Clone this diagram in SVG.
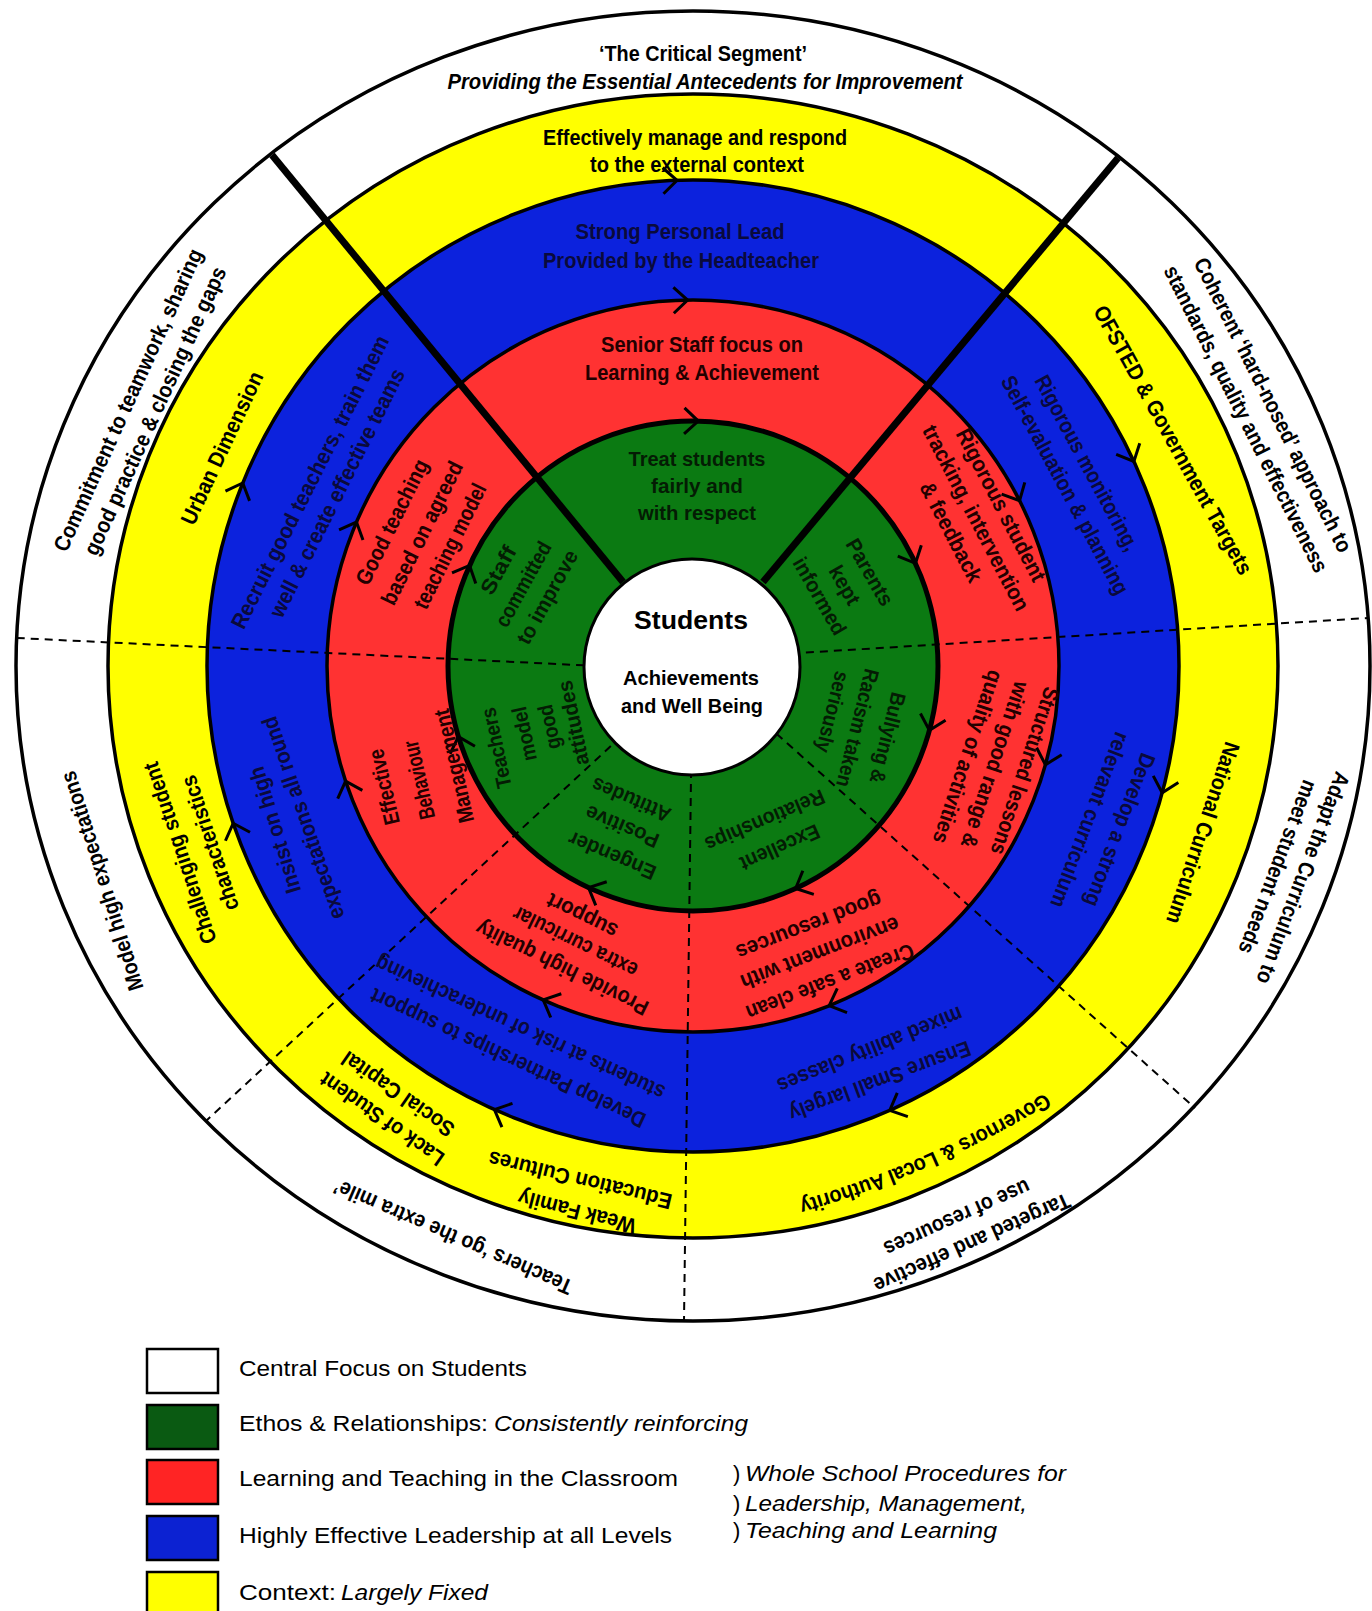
<svg xmlns="http://www.w3.org/2000/svg" xmlns:xlink="http://www.w3.org/1999/xlink" width="1372" height="1611" viewBox="0 0 1372 1611">
<style>
  .lbl{font-family:"Liberation Sans Narrow","Liberation Sans",Arial,sans-serif;font-weight:bold;text-anchor:middle;dominant-baseline:central;font-size:21px}
  .big{font-size:22px}
  .it{font-style:italic}
  .ink-w{fill:#000}
  .ink-y{fill:#000}
  .ink-b{fill:#0a0a3c}
  .ink-r{fill:#220000}
  .ink-g{fill:#041c04}
  .ring{stroke:#000;stroke-width:3.5}
  .dash{stroke:#000;stroke-width:2;stroke-dasharray:8 6;fill:none}
  .split{stroke:#000;stroke-width:7;fill:none}
  .chev{fill:none;stroke:#000;stroke-width:3}
  .leg{font-family:"Liberation Sans Narrow","Liberation Sans",Arial,sans-serif;font-size:22px;dominant-baseline:central;fill:#000}
  .box{stroke:#000;stroke-width:2.5}
</style>
<defs>
  <path id="chev" d="M -13 -13 L 1 0 L -13 13"/>
  <path id="govArc" d="M 1087 1075 A 1000 1000 0 0 1 757 1220"/>
</defs>
<rect width="1372" height="1611" fill="#fff"/>

<!-- concentric bands -->
<g id="bands">
  <ellipse id="band-context-outer" cx="693" cy="666" rx="677" ry="655" fill="#fff" class="ring"/>
  <ellipse id="band-context" cx="693" cy="666" rx="585" ry="572" fill="#ffff00" class="ring"/>
  <circle id="band-leadership" cx="693" cy="666" r="486" fill="#0c22dd" class="ring"/>
  <circle id="band-classroom" cx="693" cy="666" r="366" fill="#ff3232" class="ring"/>
  <circle id="band-ethos" cx="693" cy="666" r="245" fill="#0b7a12" stroke="#000" stroke-width="5"/>
</g>

<!-- sector dividers and flow arrows -->
<g id="connectors">
  <path class="dash" d="M 640 668 L 17 638"/>
  <path class="dash" d="M 750 656 L 1368 618"/>
  <path class="dash" d="M 693 659 L 1195 1108"/>
  <path class="dash" d="M 693 670 L 206 1121"/>
  <path class="dash" d="M 692 700 L 684 1321"/>
  <path class="split" d="M 623 582 L 272 155"/>
  <path class="split" d="M 763 582 L 1118 158"/>

  <g class="chev">
    <!-- leadership / context boundary -->
    <use xlink:href="#chev" transform="rotate(-92 693 666) translate(1179 666) rotate(90)"/>
    <use xlink:href="#chev" transform="rotate(-25 693 666) translate(1179 666) rotate(90)"/>
    <use xlink:href="#chev" transform="rotate(15 693 666) translate(1179 666) rotate(90)"/>
    <use xlink:href="#chev" transform="rotate(66 693 666) translate(1179 666) rotate(90)"/>
    <use xlink:href="#chev" transform="rotate(114 693 666) translate(1179 666) rotate(90)"/>
    <use xlink:href="#chev" transform="rotate(161 693 666) translate(1179 666) rotate(90)"/>
    <use xlink:href="#chev" transform="rotate(-158 693 666) translate(1179 666) rotate(90)"/>
    <!-- classroom / leadership boundary -->
    <use xlink:href="#chev" transform="rotate(-91 693 666) translate(1059 666) rotate(90)"/>
    <use xlink:href="#chev" transform="rotate(-27 693 666) translate(1059 666) rotate(90)"/>
    <use xlink:href="#chev" transform="rotate(15.5 693 666) translate(1059 666) rotate(90)"/>
    <use xlink:href="#chev" transform="rotate(68 693 666) translate(1059 666) rotate(90)"/>
    <use xlink:href="#chev" transform="rotate(114 693 666) translate(1059 666) rotate(90)"/>
    <use xlink:href="#chev" transform="rotate(161.5 693 666) translate(1059 666) rotate(90)"/>
    <use xlink:href="#chev" transform="rotate(-157 693 666) translate(1059 666) rotate(90)"/>
    <!-- ethos / classroom boundary -->
    <use xlink:href="#chev" transform="rotate(-89 693 666) translate(938 666) rotate(90)"/>
    <use xlink:href="#chev" transform="rotate(-25 693 666) translate(938 666) rotate(90)"/>
    <use xlink:href="#chev" transform="rotate(15 693 666) translate(938 666) rotate(90)"/>
    <use xlink:href="#chev" transform="rotate(65 693 666) translate(938 666) rotate(90)"/>
    <use xlink:href="#chev" transform="rotate(115 693 666) translate(938 666) rotate(90)"/>
    <use xlink:href="#chev" transform="rotate(163 693 666) translate(938 666) rotate(90)"/>
    <use xlink:href="#chev" transform="rotate(-156 693 666) translate(938 666) rotate(90)"/>
  </g>
</g>

<!-- hub -->
<g id="hub-students">
  <circle cx="692" cy="667" r="108" fill="#fff" stroke="#000" stroke-width="3"/>
  <text class="lbl ink-w" style="font-size:25px" transform="translate(691 620)" textLength="114" lengthAdjust="spacingAndGlyphs">Students</text>
  <text class="lbl ink-w" transform="translate(691 677)" textLength="136" lengthAdjust="spacingAndGlyphs">Achievements</text>
  <text class="lbl ink-w" transform="translate(692 705)" textLength="142" lengthAdjust="spacingAndGlyphs">and Well Being</text>
</g>

<!-- outer white band -->
<g id="outer-critical">
  <text class="lbl big ink-w" transform="translate(703 53)" textLength="208" lengthAdjust="spacingAndGlyphs">‘The Critical Segment’</text>
  <text class="lbl big it ink-w" transform="translate(705 81)" textLength="515" lengthAdjust="spacingAndGlyphs">Providing the Essential Antecedents for Improvement</text>
</g>
<g id="outer-commitment">
  <text class="lbl big ink-w" transform="translate(128 400) rotate(-65.5)" textLength="330" lengthAdjust="spacingAndGlyphs">Commitment to teamwork, sharing</text>
  <text class="lbl big ink-w" transform="translate(155 411) rotate(-65.5)" textLength="314" lengthAdjust="spacingAndGlyphs">good practice &amp; closing the gaps</text>
</g>
<g id="outer-coherent">
  <text class="lbl big ink-w" transform="translate(1273 405) rotate(63.4)" textLength="326" lengthAdjust="spacingAndGlyphs">Coherent ‘hard-nosed’ approach to</text>
  <text class="lbl big ink-w" transform="translate(1246 419) rotate(63.4)" textLength="340" lengthAdjust="spacingAndGlyphs">standards, quality and effectiveness</text>
</g>
<g id="outer-model">
  <text class="lbl big ink-w" transform="translate(102 881) rotate(-107.6)" textLength="229" lengthAdjust="spacingAndGlyphs">Model high expectations</text>
</g>
<g id="outer-adapt">
  <text class="lbl big ink-w" transform="translate(1303 878) rotate(110.9)" textLength="225" lengthAdjust="spacingAndGlyphs">Adapt the Curriculum to</text>
  <text class="lbl big ink-w" transform="translate(1278 867) rotate(110.9)" textLength="184" lengthAdjust="spacingAndGlyphs">meet student needs</text>
</g>
<g id="outer-extra-mile">
  <text class="lbl big ink-w" transform="translate(453 1237) rotate(-156.5)" textLength="258" lengthAdjust="spacingAndGlyphs">Teachers ‘go the extra mile’</text>
</g>
<g id="outer-targeted">
  <text class="lbl big ink-w" transform="translate(972 1243) rotate(155.8)" textLength="213" lengthAdjust="spacingAndGlyphs">Targeted and effective</text>
  <text class="lbl big ink-w" transform="translate(957 1218) rotate(155.8)" textLength="158" lengthAdjust="spacingAndGlyphs">use of resources</text>
</g>

<!-- yellow context band -->
<g id="ctx-external">
  <text class="lbl big ink-y" transform="translate(695 137)" textLength="304" lengthAdjust="spacingAndGlyphs">Effectively manage and respond</text>
  <text class="lbl big ink-y" transform="translate(697 164)" textLength="214" lengthAdjust="spacingAndGlyphs">to the external context</text>
</g>
<g id="ctx-urban">
  <text class="lbl big ink-y" transform="translate(222 448) rotate(-65)" textLength="166" lengthAdjust="spacingAndGlyphs">Urban Dimension</text>
</g>
<g id="ctx-ofsted">
  <text class="lbl big ink-y" transform="translate(1173 440) rotate(61)" textLength="304" lengthAdjust="spacingAndGlyphs">OFSTED &amp; Government Targets</text>
</g>
<g id="ctx-challenging">
  <text class="lbl big ink-y" transform="translate(180 853) rotate(-108.4)" textLength="190" lengthAdjust="spacingAndGlyphs">Challenging student</text>
  <text class="lbl big ink-y" transform="translate(210 843) rotate(-108.4)" textLength="141" lengthAdjust="spacingAndGlyphs">characteristics</text>
</g>
<g id="ctx-national">
  <text class="lbl big ink-y" transform="translate(1203 833) rotate(108.4)" textLength="190" lengthAdjust="spacingAndGlyphs">National Curriculum</text>
</g>
<g id="ctx-social">
  <text class="lbl big ink-y" transform="translate(382 1119) rotate(-145)" textLength="146" lengthAdjust="spacingAndGlyphs">Lack of Student</text>
  <text class="lbl big ink-y" transform="translate(398 1094) rotate(-145)" textLength="132" lengthAdjust="spacingAndGlyphs">Social Capital</text>
</g>
<g id="ctx-family">
  <text class="lbl big ink-y" transform="translate(577 1212) rotate(-165.6)" textLength="121" lengthAdjust="spacingAndGlyphs">Weak Family</text>
  <text class="lbl big ink-y" transform="translate(580 1180) rotate(-166.5)" textLength="188" lengthAdjust="spacingAndGlyphs">Education Cultures</text>
</g>
<g id="ctx-governors">
  <text class="lbl big ink-y"><textPath xlink:href="#govArc" startOffset="50%" textLength="272" lengthAdjust="spacingAndGlyphs">Governors &amp; Local Authority</textPath></text>
</g>

<!-- blue leadership band -->
<g id="lead-head">
  <text class="lbl big ink-b" transform="translate(680 231)" textLength="209" lengthAdjust="spacingAndGlyphs">Strong Personal Lead</text>
  <text class="lbl big ink-b" transform="translate(681 260)" textLength="276" lengthAdjust="spacingAndGlyphs">Provided by the Headteacher</text>
</g>
<g id="lead-recruit">
  <text class="lbl big ink-b" transform="translate(310 482) rotate(-63.3)" textLength="325" lengthAdjust="spacingAndGlyphs">Recruit good teachers, train them</text>
  <text class="lbl big ink-b" transform="translate(337 493) rotate(-63.3)" textLength="275" lengthAdjust="spacingAndGlyphs">well &amp; create effective teams</text>
</g>
<g id="lead-monitoring">
  <text class="lbl big ink-b" transform="translate(1087 463) rotate(61.7)" textLength="196" lengthAdjust="spacingAndGlyphs">Rigorous monitoring,</text>
  <text class="lbl big ink-b" transform="translate(1065 485) rotate(61.7)" textLength="245" lengthAdjust="spacingAndGlyphs">Self-evaluation &amp; planning</text>
</g>
<g id="lead-insist">
  <text class="lbl big ink-b" transform="translate(275 830) rotate(-107)" textLength="131" lengthAdjust="spacingAndGlyphs">Insist on high</text>
  <text class="lbl big ink-b" transform="translate(303 818) rotate(-109)" textLength="213" lengthAdjust="spacingAndGlyphs">expectations all round</text>
</g>
<g id="lead-curriculum">
  <text class="lbl big ink-b" transform="translate(1120 830) rotate(110.8)" textLength="162" lengthAdjust="spacingAndGlyphs">Develop a strong</text>
  <text class="lbl big ink-b" transform="translate(1090 820) rotate(110.8)" textLength="186" lengthAdjust="spacingAndGlyphs">relevant curriculum</text>
</g>
<g id="lead-partnerships">
  <text class="lbl big ink-b" transform="translate(508 1058) rotate(-155)" textLength="301" lengthAdjust="spacingAndGlyphs">Develop Partnerships to support</text>
  <text class="lbl big ink-b" transform="translate(520 1028) rotate(-155.3)" textLength="316" lengthAdjust="spacingAndGlyphs">students at risk of underachieving</text>
</g>
<g id="lead-classes">
  <text class="lbl big ink-b" transform="translate(880 1081) rotate(159.6)" textLength="192" lengthAdjust="spacingAndGlyphs">Ensure Small largely</text>
  <text class="lbl big ink-b" transform="translate(870 1050) rotate(158)" textLength="198" lengthAdjust="spacingAndGlyphs">mixed ability classes</text>
</g>

<!-- red classroom band -->
<g id="cls-senior">
  <text class="lbl big ink-r" transform="translate(702 344)" textLength="202" lengthAdjust="spacingAndGlyphs">Senior Staff focus on</text>
  <text class="lbl big ink-r" transform="translate(702 372)" textLength="234" lengthAdjust="spacingAndGlyphs">Learning &amp; Achievement</text>
</g>
<g id="cls-teaching">
  <text class="lbl big ink-r" transform="translate(392 522) rotate(-63.6)" textLength="137" lengthAdjust="spacingAndGlyphs">Good teaching</text>
  <text class="lbl big ink-r" transform="translate(422 533) rotate(-63.6)" textLength="157" lengthAdjust="spacingAndGlyphs">based on agreed</text>
  <text class="lbl big ink-r" transform="translate(450 546) rotate(-63.6)" textLength="137" lengthAdjust="spacingAndGlyphs">teaching model</text>
</g>
<g id="cls-tracking">
  <text class="lbl big ink-r" transform="translate(1001 505) rotate(62.5)" textLength="169" lengthAdjust="spacingAndGlyphs">Rigorous student</text>
  <text class="lbl big ink-r" transform="translate(976 518) rotate(62.5)" textLength="206" lengthAdjust="spacingAndGlyphs">tracking, intervention</text>
  <text class="lbl big ink-r" transform="translate(951 532) rotate(62.5)" textLength="110" lengthAdjust="spacingAndGlyphs">&amp; feedback</text>
</g>
<g id="cls-lessons">
  <text class="lbl big ink-r" transform="translate(1025 771) rotate(108.3)" textLength="175" lengthAdjust="spacingAndGlyphs">Structured lessons</text>
  <text class="lbl big ink-r" transform="translate(995 765) rotate(108.3)" textLength="174" lengthAdjust="spacingAndGlyphs">with good range &amp;</text>
  <text class="lbl big ink-r" transform="translate(968 757) rotate(108.3)" textLength="181" lengthAdjust="spacingAndGlyphs">quality of activities</text>
</g>
<g id="cls-behaviour">
  <text class="lbl big ink-r" transform="translate(384 787) rotate(-103)" textLength="77" lengthAdjust="spacingAndGlyphs">Effective</text>
  <text class="lbl big ink-r" transform="translate(419 780) rotate(-103)" textLength="80" lengthAdjust="spacingAndGlyphs">Behaviour</text>
  <text class="lbl big ink-r" transform="translate(454 766) rotate(-103)" textLength="116" lengthAdjust="spacingAndGlyphs">Management</text>
</g>
<g id="cls-extra">
  <text class="lbl big ink-r" transform="translate(562 968) rotate(-154)" textLength="189" lengthAdjust="spacingAndGlyphs">Provide high quality</text>
  <text class="lbl big ink-r" transform="translate(575 942) rotate(-154)" textLength="136" lengthAdjust="spacingAndGlyphs">extra curricular</text>
  <text class="lbl big ink-r" transform="translate(582 916) rotate(-154)" textLength="76" lengthAdjust="spacingAndGlyphs">support</text>
</g>
<g id="cls-environment">
  <text class="lbl big ink-r" transform="translate(830 982) rotate(159)" textLength="178" lengthAdjust="spacingAndGlyphs">Create a safe clean</text>
  <text class="lbl big ink-r" transform="translate(820 953) rotate(159)" textLength="168" lengthAdjust="spacingAndGlyphs">environment with</text>
  <text class="lbl big ink-r" transform="translate(809 926) rotate(159)" textLength="154" lengthAdjust="spacingAndGlyphs">good resources</text>
</g>

<!-- green ethos band -->
<g id="eth-respect">
  <text class="lbl ink-g" transform="translate(697 458)" textLength="137" lengthAdjust="spacingAndGlyphs">Treat students</text>
  <text class="lbl ink-g" transform="translate(697 485)" textLength="92" lengthAdjust="spacingAndGlyphs">fairly and</text>
  <text class="lbl ink-g" transform="translate(697 512)" textLength="118" lengthAdjust="spacingAndGlyphs">with respect</text>
</g>
<g id="eth-staff">
  <text class="lbl ink-g" transform="translate(498 570) rotate(-61)" textLength="52" lengthAdjust="spacingAndGlyphs">Staff</text>
  <text class="lbl ink-g" transform="translate(523 584) rotate(-61)" textLength="94" lengthAdjust="spacingAndGlyphs">committed</text>
  <text class="lbl ink-g" transform="translate(547 597) rotate(-61)" textLength="104" lengthAdjust="spacingAndGlyphs">to improve</text>
</g>
<g id="eth-parents">
  <text class="lbl ink-g" transform="translate(870 572) rotate(60)" textLength="74" lengthAdjust="spacingAndGlyphs">Parents</text>
  <text class="lbl ink-g" transform="translate(845 585) rotate(60)" textLength="42" lengthAdjust="spacingAndGlyphs">kept</text>
  <text class="lbl ink-g" transform="translate(820 596) rotate(60)" textLength="86" lengthAdjust="spacingAndGlyphs">informed</text>
</g>
<g id="eth-bullying">
  <text class="lbl ink-g" transform="translate(888 738) rotate(104)" textLength="93" lengthAdjust="spacingAndGlyphs">Bullying &amp;</text>
  <text class="lbl ink-g" transform="translate(858 728) rotate(104)" textLength="121" lengthAdjust="spacingAndGlyphs">Racism taken</text>
  <text class="lbl ink-g" transform="translate(833 712) rotate(104)" textLength="83" lengthAdjust="spacingAndGlyphs">seriously</text>
</g>
<g id="eth-relationships">
  <text class="lbl ink-g" transform="translate(780 848) rotate(156)" textLength="85" lengthAdjust="spacingAndGlyphs">Excellent</text>
  <text class="lbl ink-g" transform="translate(765 821) rotate(157)" textLength="128" lengthAdjust="spacingAndGlyphs">Relationships</text>
</g>
<g id="eth-attitudes">
  <text class="lbl ink-g" transform="translate(612 856) rotate(-157)" textLength="93" lengthAdjust="spacingAndGlyphs">Engender</text>
  <text class="lbl ink-g" transform="translate(622 827) rotate(-157)" textLength="78" lengthAdjust="spacingAndGlyphs">Positive</text>
  <text class="lbl ink-g" transform="translate(631 800) rotate(-157)" textLength="84" lengthAdjust="spacingAndGlyphs">Attitudes</text>
</g>
<g id="eth-model">
  <text class="lbl ink-g" transform="translate(496 748) rotate(-102)" textLength="82" lengthAdjust="spacingAndGlyphs">Teachers</text>
  <text class="lbl ink-g" transform="translate(524 734) rotate(-102)" textLength="55" lengthAdjust="spacingAndGlyphs">model</text>
  <text class="lbl ink-g" transform="translate(549 727) rotate(-102)" textLength="45" lengthAdjust="spacingAndGlyphs">good</text>
  <text class="lbl ink-g" transform="translate(573 723) rotate(-102)" textLength="86" lengthAdjust="spacingAndGlyphs">attitudes</text>
</g>

<!-- key -->
<g id="legend">
  <rect class="box" x="147" y="1349" width="71" height="44" fill="#fff"/>
  <rect class="box" x="147" y="1405" width="71" height="44" fill="#0a5a12"/>
  <rect class="box" x="147" y="1460" width="71" height="44" fill="#ff2424"/>
  <rect class="box" x="147" y="1516" width="71" height="44" fill="#0c22d2"/>
  <rect class="box" x="147" y="1572" width="71" height="44" fill="#ffff00"/>
  <text class="leg" x="239" y="1368" textLength="288" lengthAdjust="spacingAndGlyphs">Central Focus on Students</text>
  <text class="leg" x="239" y="1423" textLength="249" lengthAdjust="spacingAndGlyphs">Ethos &amp; Relationships:</text>
  <text class="leg" x="494" y="1423" font-style="italic" textLength="254" lengthAdjust="spacingAndGlyphs">Consistently reinforcing</text>
  <text class="leg" x="239" y="1478" textLength="439" lengthAdjust="spacingAndGlyphs">Learning and Teaching in the Classroom</text>
  <text class="leg" x="239" y="1535" textLength="433" lengthAdjust="spacingAndGlyphs">Highly Effective Leadership at all Levels</text>
  <text class="leg" x="239" y="1592" textLength="97" lengthAdjust="spacingAndGlyphs">Context:</text>
  <text class="leg" x="341" y="1592" font-style="italic" textLength="147" lengthAdjust="spacingAndGlyphs">Largely Fixed</text>
  <text class="leg" x="733" y="1473">)</text>
  <text class="leg" x="745" y="1473" font-style="italic" textLength="321" lengthAdjust="spacingAndGlyphs">Whole School Procedures for</text>
  <text class="leg" x="733" y="1503">)</text>
  <text class="leg" x="745" y="1503" font-style="italic" textLength="282" lengthAdjust="spacingAndGlyphs">Leadership, Management,</text>
  <text class="leg" x="733" y="1530">)</text>
  <text class="leg" x="745" y="1530" font-style="italic" textLength="252" lengthAdjust="spacingAndGlyphs">Teaching and Learning</text>
</g>
</svg>
